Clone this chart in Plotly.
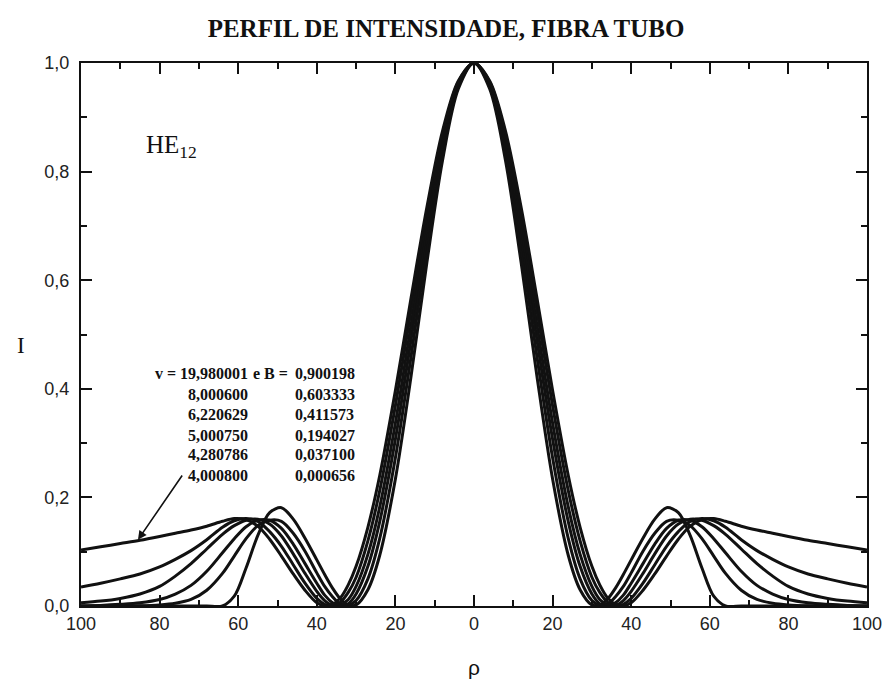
import plotly.graph_objects as go

# Radial coordinate (one side; the profile is symmetric about rho = 0)
rho = [0, 4, 8, 12, 16, 20, 24, 27, 30, 32, 34, 36, 38, 40, 43, 46,
       49, 52, 55, 58, 61, 64, 68, 72, 76, 80, 85, 90, 95, 100]

# Normalised frequency v and propagation constant B of each HE12 curve
v_vals = [19.980001, 8.000600, 6.220629, 5.000750, 4.280786, 4.000800]
b_vals = [0.900198, 0.603333, 0.411573, 0.194027, 0.037100, 0.000656]

# Intensity profiles I(rho), one list per (v, B) pair
I_v1998 = [1.0, 0.952, 0.821, 0.632, 0.424, 0.234, 0.093, 0.030, 0.002, 0.002,
           0.013, 0.033, 0.058, 0.085, 0.125, 0.160, 0.181, 0.172, 0.130, 0.070,
           0.018, 0.0, 0.0, 0.0, 0.0, 0.0, 0.0, 0.0, 0.0, 0.0]
I_v8000 = [1.0, 0.957, 0.836, 0.659, 0.460, 0.273, 0.124, 0.050, 0.010, 0.001,
           0.003, 0.017, 0.036, 0.061, 0.101, 0.134, 0.156, 0.158, 0.148, 0.124,
           0.092, 0.060, 0.029, 0.012, 0.005, 0.002, 0.0005, 0.0, 0.0, 0.0]
I_v6220 = [1.0, 0.960, 0.848, 0.682, 0.491, 0.307, 0.155, 0.073, 0.022, 0.004,
           0.000, 0.006, 0.020, 0.042, 0.078, 0.114, 0.143, 0.158, 0.158, 0.146,
           0.124, 0.098, 0.064, 0.038, 0.022, 0.012, 0.006, 0.003, 0.001, 0.0]
I_v5000 = [1.0, 0.962, 0.857, 0.700, 0.518, 0.337, 0.182, 0.095, 0.036, 0.012,
           0.002, 0.001, 0.010, 0.027, 0.060, 0.096, 0.129, 0.151, 0.160, 0.158,
           0.148, 0.132, 0.105, 0.078, 0.055, 0.036, 0.022, 0.014, 0.009, 0.006]
I_v4280 = [1.0, 0.965, 0.867, 0.719, 0.545, 0.369, 0.212, 0.120, 0.053, 0.025,
           0.007, 0.000, 0.003, 0.014, 0.042, 0.076, 0.110, 0.137, 0.156, 0.161,
           0.157, 0.145, 0.122, 0.102, 0.086, 0.072, 0.059, 0.050, 0.042, 0.035]
I_v4000 = [1.0, 0.967, 0.875, 0.734, 0.568, 0.397, 0.240, 0.145, 0.073, 0.039,
           0.015, 0.003, 0.0005, 0.006, 0.029, 0.059, 0.092, 0.123, 0.147, 0.159,
           0.161, 0.156, 0.147, 0.140, 0.134, 0.128, 0.121, 0.115, 0.109, 0.103]

profiles = [I_v1998, I_v8000, I_v6220, I_v5000, I_v4280, I_v4000]

x_ticks = [-100, -80, -60, -40, -20, 0, 20, 40, 60, 80, 100]
x_ticktext = ["100", "80", "60", "40", "20", "0", "20", "40", "60", "80", "100"]
y_ticks = [0.0, 0.2, 0.4, 0.6, 0.8, 1.0]
y_ticktext = ["0,0", "0,2", "0,4", "0,6", "0,8", "1,0"]

W, H = 894, 691
L, R, T, B = 81, 19, 63, 85
PW, PH = W - L - R, H - T - B


def px(x):
    return (x - L) / PW


def py(y):
    return (H - B - y) / PH


def comma(v):
    return f"{v:.6f}".replace(".", ",")


fig = go.Figure()

for prof in profiles:
    xs = [-r for r in reversed(rho)] + rho[1:]
    ys = list(reversed(prof)) + prof[1:]
    fig.add_trace(go.Scatter(
        x=xs, y=ys, mode="lines",
        line=dict(color="#111111", width=3, shape="spline", smoothing=0.9),
        showlegend=False, hoverinfo="skip",
    ))

serif = "Liberation Serif"
sans = "Liberation Sans"

ann = []
# HE12 mode label
ann.append(dict(xref="paper", yref="paper", x=px(145), y=py(146),
                xanchor="left", yanchor="middle", showarrow=False,
                text="HE<sub>12</sub>",
                font=dict(family=serif, size=25, color="#111")))

# v / B table
rows_y = [373, 394, 414, 435, 455, 476]
for i, (vv, bb) in enumerate(zip(v_vals, b_vals)):
    left = ("v = " if i == 0 else "") + comma(vv)
    ann.append(dict(xref="paper", yref="paper", x=px(252), y=py(rows_y[i]),
                    xanchor="right", yanchor="middle", showarrow=False,
                    text=f"<b>{left}</b>",
                    font=dict(family=serif, size=16, color="#111")))
    ann.append(dict(xref="paper", yref="paper", x=px(295), y=py(rows_y[i]),
                    xanchor="left", yanchor="middle", showarrow=False,
                    text=f"<b>{comma(bb)}</b>",
                    font=dict(family=serif, size=16, color="#111")))
ann.append(dict(xref="paper", yref="paper", x=px(292), y=py(rows_y[0]),
                xanchor="right", yanchor="middle", showarrow=False,
                text="<b>e B =</b>",
                font=dict(family=serif, size=16, color="#111")))

# arrow pointing at the v = 4,000800 curve
ann.append(dict(xref="x", yref="y", axref="x", ayref="y",
                x=-85.5, y=0.122, ax=-74.0, ay=0.243,
                text="", showarrow=True, arrowhead=2, arrowsize=1.1,
                arrowwidth=1.6, arrowcolor="#111", standoff=0, startstandoff=0))

# axis titles
ann.append(dict(xref="paper", yref="paper", x=px(20), y=py(345),
                xanchor="center", yanchor="middle", showarrow=False,
                text="I", font=dict(family=serif, size=23, color="#111")))
ann.append(dict(xref="paper", yref="paper", x=px(478), y=py(667),
                xanchor="center", yanchor="middle", showarrow=False,
                text="ρ", font=dict(family=sans, size=21, color="#111")))

fig.update_layout(
    width=W, height=H,
    margin=dict(l=L, r=R, t=T, b=B),
    paper_bgcolor="white", plot_bgcolor="white",
    title=dict(text="<b>PERFIL DE INTENSIDADE, FIBRA TUBO</b>",
               x=446 / W, xanchor="center", y=1 - 28 / H, yanchor="middle",
               font=dict(family=serif, size=25, color="#111")),
    annotations=ann,
    xaxis=dict(range=[-100, 100], tickmode="array", tickvals=x_ticks,
               ticktext=x_ticktext, ticks="inside", ticklen=11, tickwidth=2,
               tickcolor="#111", showline=True, linewidth=2, linecolor="#111",
               mirror="ticks", showgrid=False, zeroline=False,
               tickfont=dict(family=sans, size=18, color="#222"),
               minor=dict(tickmode="array",
                          tickvals=[-90, -70, -50, -30, -10, 10, 30, 50, 70, 90],
                          ticks="inside", ticklen=6, tickwidth=1.6,
                          tickcolor="#111", showgrid=False)),
    yaxis=dict(range=[0, 1], tickmode="array", tickvals=y_ticks,
               ticktext=y_ticktext, ticks="inside", ticklen=11, tickwidth=2,
               tickcolor="#111", showline=True, linewidth=2, linecolor="#111",
               mirror="ticks", showgrid=False, zeroline=False,
               ticklabelstandoff=6,
               tickfont=dict(family=sans, size=18, color="#222"),
               minor=dict(tickmode="array", tickvals=[0.1, 0.3, 0.5, 0.7, 0.9],
                          ticks="inside", ticklen=6, tickwidth=1.6,
                          tickcolor="#111", showgrid=False)),
)

fig.write_html("out.html")
